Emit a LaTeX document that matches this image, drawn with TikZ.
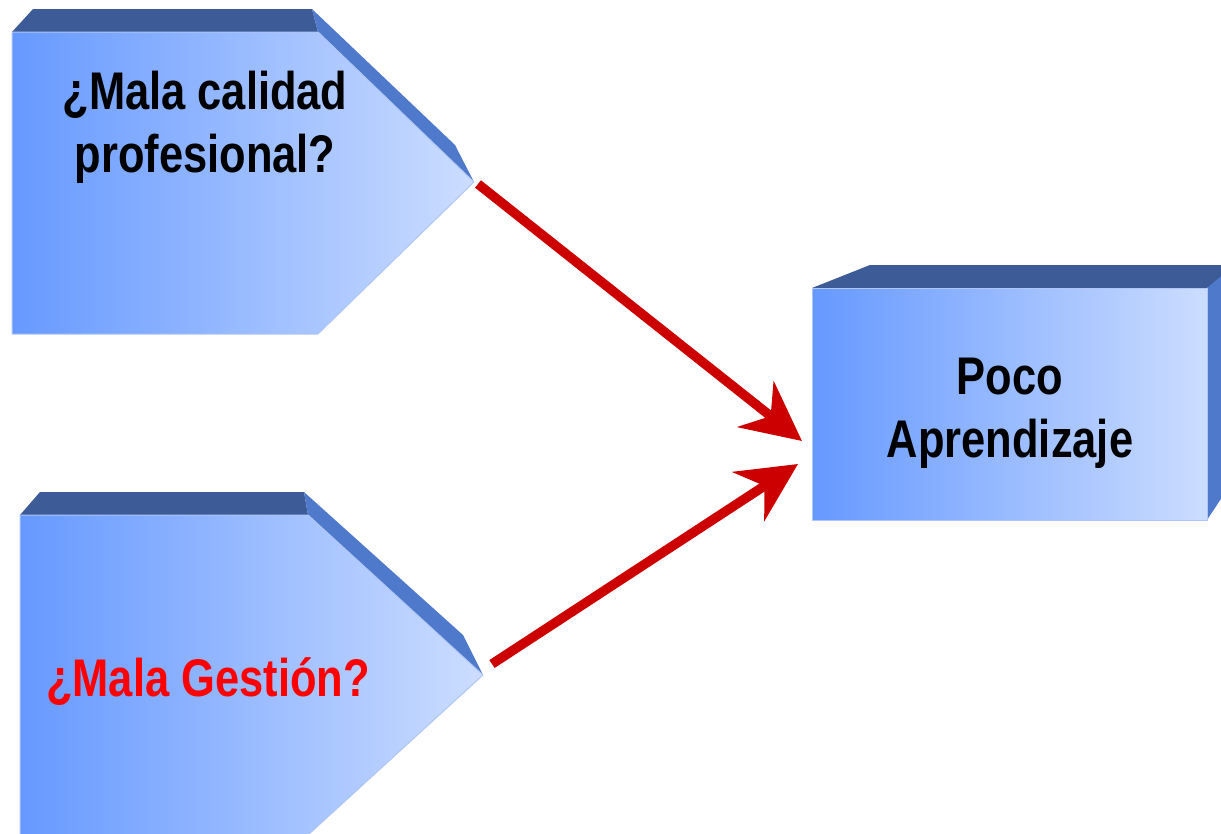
\documentclass[tikz,border=0pt]{standalone}
\usepackage{fontspec}
\newfontfamily\narrowsans{Liberation Sans}[FakeStretch=0.82]
\usetikzlibrary{arrows.meta}
\definecolor{frontL}{HTML}{6699FF}
\definecolor{frontR}{HTML}{CCDDFF}
\definecolor{topface}{HTML}{3D5B96}
\definecolor{sideface}{HTML}{4F79CB}
\definecolor{edgecol}{HTML}{AFC6F6}
\definecolor{arrowred}{HTML}{CC0000}
\tikzset{
  front/.style={left color=frontL, right color=frontR, draw=edgecol, line width=1pt},
  topf/.style={fill=topface},
  sidef/.style={fill=sideface},
  label/.style={font=\narrowsans\bfseries\fontsize{53}{63}\selectfont, align=center, inner sep=0pt},
  redarrow/.style={draw=arrowred, line width=9.5pt, -{Stealth[length=59pt, width=58pt, inset=19pt]}}
}
\begin{document}
\begin{tikzpicture}[x=1pt,y=-1pt]
\useasboundingbox (0,0) rectangle (1221,833);
\clip (0,0) rectangle (1221,833);
% top pentagon
\fill[topf] (12,32) -- (33,9) -- (312,9) -- (318,32) -- cycle;
\fill[sidef] (318,32) -- (312,9) -- (455,145) -- (474,182) -- cycle;
\path[front] (12,32) -- (318,32) -- (474,182) -- (318,334) -- (12,334) -- cycle;
% bottom pentagon
\fill[topf] (20,515) -- (40,492) -- (304,492) -- (308,515) -- cycle;
\fill[sidef] (308,515) -- (304,492) -- (463,635) -- (483,675) -- cycle;
\path[front] (20,515) -- (308,515) -- (483,675) -- (308,835) -- (20,835) -- cycle;
% right box
\fill[topf] (812,288) -- (870,265) -- (1240,265) -- (1207,288) -- cycle;
\fill[sidef] (1207,288) -- (1240,260) -- (1240,470) -- (1207,520) -- cycle;
\path[front] (812,288) -- (1207,288) -- (1207,520) -- (812,520) -- cycle;
% texts (base anchor = baseline of the last line)
\node[label, anchor=base] (calidad) at (205,172) {¿Mala calidad\\profesional?};
\node[label, anchor=base, text=red] (gestion) at (208,696) {¿Mala Gestión?};
\node[label, anchor=base] (poco) at (1010,457) {Poco\\Aprendizaje};
% arrow end points
\coordinate (startA) at (478,184);
\coordinate (endA) at (802,441);
\coordinate (startB) at (492,664);
\coordinate (endB) at (798,464);
\draw[redarrow] (startA) -- (endA);
\draw[redarrow] (startB) -- (endB);
\end{tikzpicture}
\end{document}
